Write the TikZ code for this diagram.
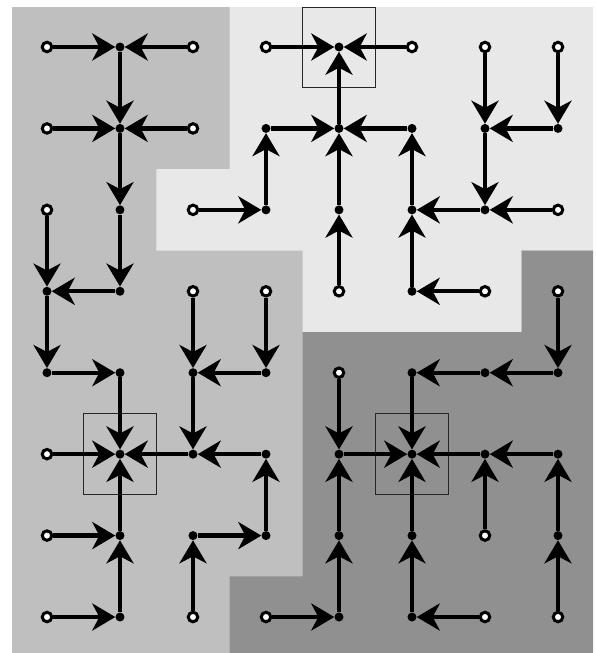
\documentclass[tikz,border=0pt]{standalone}
\usetikzlibrary{arrows.meta}
\definecolor{treeA}{gray}{0.75}
\definecolor{treeB}{gray}{0.91}
\definecolor{treeC}{gray}{0.565}
\begin{document}
\begin{tikzpicture}[x=73pt, y=-81.43pt,
  junc/.style={circle, fill=black, inner sep=0pt, minimum size=9pt},
  leaf/.style={circle, draw=black, fill=white, line width=3pt, inner sep=0pt, minimum size=9.5pt},
  flow/.style={line width=4.2pt, -{Stealth[length=23pt, width=27pt, inset=7pt]}},
  cellbox/.style={draw=black!85, line width=0.8pt}]
  \useasboundingbox (0.3562,0.4228) rectangle (8.5342,8.4420);
  % three drainage regions, one shade per tree
  \fill[treeA] (0.52,0.51) rectangle (8.48,8.442);
  \fill[treeB] (3.5,0.51) -| (8.48,3.5) -| (7.5,4.5) -| (4.5,3.5) -| (2.5,2.5) -| (3.5,0.51) -- cycle;
  \fill[treeC] (7.5,3.5) -| (8.48,8.442) -| (3.5,7.5) -| (4.5,4.5) -| (7.5,3.5) -- cycle;
  % outlet cells
  \draw[cellbox] (4.5,0.51) rectangle (5.5,1.5);
  \draw[cellbox] (1.5,5.5) rectangle (2.5,6.5);
  \draw[cellbox] (5.5,5.5) rectangle (6.5,6.5);
  % grid cells: n<col><row>
  \foreach \c in {1,...,8}
    \foreach \r in {1,...,8}
      \node[junc] (n\c\r) at (\c,\r) {};
  % cells with no inflow
  \foreach \c/\r in {1/1,3/1,4/1,6/1,7/1,8/1, 1/2,3/2, 1/3,3/3,8/3,
                     3/4,4/4,5/4,7/4,8/4, 5/5, 1/6, 1/7,7/7,
                     1/8,3/8,4/8,7/8,8/8}
    \node[leaf] (n\c\r) at (\c,\r) {};
  % flow directions
  \foreach \a/\b in {11/21, 31/21, 41/51, 61/51, 71/72, 81/82, 21/22, 52/51,
                     12/22, 32/22, 22/23, 42/52, 62/52, 82/72, 72/73,
                     43/42, 53/52, 63/62, 13/14, 23/24, 33/43, 73/63, 83/73,
                     54/53, 64/63, 24/14, 14/15, 34/35, 44/45, 74/64, 84/85,
                     15/25, 25/26, 45/35, 35/36, 55/56, 85/75, 75/65, 65/66,
                     16/26, 36/26, 27/26, 46/36, 47/46, 56/66, 76/66, 67/66,
                     86/76, 77/76, 57/56, 87/86,
                     17/27, 28/27, 37/47, 38/37, 58/57, 68/67, 88/87,
                     18/28, 48/58, 78/68}
    \draw[flow] (n\a) -- (n\b);
\end{tikzpicture}
\end{document}
